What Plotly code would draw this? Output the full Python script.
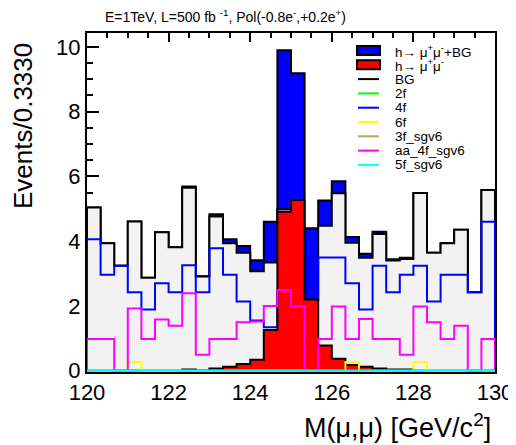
import numpy as np
import plotly.graph_objects as go

# ---- data (30 bins, 120-130 GeV, width 0.333) ----
x_min, x_max, n_bins = 120.0, 130.0, 30
signal = [0, 0, 0, 0, 0, 0, 0, 0.04, 0.01, 0.07, 0.12, 0.21, 0.34, 1.26, 4.91,
          5.27, 2.20, 0.78, 0.37, 0.18, 0.12, 0.07, 0.04, 0.04, 0, 0, 0, 0, 0, 0]
bg_2f = [0] * 30
bg_4f = [4.06, 2.96, 3.24, 2.42, 1.89, 2.70, 2.42, 3.26, 2.42, 3.78, 2.96, 2.14, 1.55, 1.34, 2.50,
         1.94, 2.20, 3.50, 3.50, 2.70, 1.89, 3.24, 2.42, 2.96, 3.24, 2.14, 2.96, 2.96, 2.42, 4.60]
bg_6f = [0, 0, 0, 0.27, 0, 0, 0, 0, 0, 0, 0, 0, 0, 0, 0,
         0, 0, 0, 0, 0.27, 0, 0, 0, 0, 0.27, 0, 0, 0, 0, 0]
bg_3f = [0] * 30
bg_aa4f = [0.98, 0.98, 0, 1.92, 0.98, 1.58, 1.39, 2.39, 0.49, 0.98, 0.98, 1.50, 1.52, 2.00, 2.49,
           1.98, 0, 0.98, 1.98, 0.98, 1.60, 0.98, 0.98, 0.49, 1.98, 1.50, 0.98, 1.39, 0, 0.98]
bg_5f = [0] * 30
x_ticks = [120, 122, 124, 126, 128, 130]
y_ticks = [0, 2, 4, 6, 8, 10]

bg = list(np.sum([bg_2f, bg_4f, bg_6f, bg_3f, bg_aa4f, bg_5f], axis=0))
total = [b + s for b, s in zip(bg, signal)]

edges = np.linspace(x_min, x_max, n_bins + 1)


def step(vals):
    xs = [edges[0]] + list(edges[:-1]) + [edges[-1], edges[-1]]
    ys = [0] + list(vals) + [vals[-1], 0]
    return xs, ys


FONT = "Liberation Sans, Arial, Helvetica, sans-serif"
fig = go.Figure()


def add_hist(vals, name, line_color, fill=None, width=2):
    xs, ys = step(vals)
    kw = dict(x=xs, y=ys, mode="lines", name=name, showlegend=False,
              line=dict(shape="hv", color=line_color, width=width), hoverinfo="skip")
    if fill:
        kw.update(fill="tozeroy", fillcolor=fill)
    fig.add_trace(go.Scatter(**kw))


add_hist(total, "h→ μ+μ-+BG", "black", fill="#0000ff")
add_hist(bg, "BG", "black", fill="#f2f2f2")
add_hist(bg_2f, "2f", "#00ff00")
add_hist(bg_4f, "4f", "#0000ff")
add_hist(signal, "h→ μ+μ-", "black", fill="#ff0000")
add_hist(bg_6f, "6f", "#ffff00")
add_hist(bg_3f, "3f_sgv6", "#c8a060")
add_hist(bg_aa4f, "aa_4f_sgv6", "#ff00ff")
add_hist(bg_5f, "5f_sgv6", "#00ffff")

# page body has an 8px margin: figure is drawn offset by (8, 8) in the window
OFF = 8
W, H = 516 - OFF, 445 - OFF
# plot frame in window pixels
L, R, T, B = 87, 495, 33, 372


def px(xp):
    return (xp - L) / (R - L)


def py(yp):
    return (B - yp) / (B - T)


annotations = [
    dict(text="E=1TeV, L=500 fb <sup>-1</sup>, Pol(-0.8e<sup>-</sup>,+0.2e<sup>+</sup>)",
         x=px(103), y=py(16), xref="paper", yref="paper", xanchor="left", yanchor="middle",
         showarrow=False, font=dict(size=14, color="black", family=FONT)),
    dict(text="Events/0.3330", textangle=-90, x=px(23), y=py(126), xref="paper", yref="paper",
         xanchor="center", yanchor="middle", showarrow=False, borderpad=0,
         font=dict(size=26, color="black", family=FONT)),
    dict(text="M(μ,μ) [GeV/c<sup>2</sup>]", x=px(493), y=py(426), xref="paper", yref="paper",
         xanchor="right", yanchor="middle", showarrow=False,
         font=dict(size=27, color="black", family=FONT)),
]

# manual legend (ROOT style, compact rows)
legend_items = [
    ("h→ μ<sup>+</sup>μ<sup>-</sup>+BG", "box", "#0000ff"),
    ("h→ μ<sup>+</sup>μ<sup>-</sup>", "box", "#ff0000"),
    ("BG", "line", "black"),
    ("2f", "line", "#00ff00"),
    ("4f", "line", "#0000ff"),
    ("6f", "line", "#ffff00"),
    ("3f_sgv6", "line", "#c8a060"),
    ("aa_4f_sgv6", "line", "#ff00ff"),
    ("5f_sgv6", "line", "#00ffff"),
]
shapes = []
for i, (txt, kind, col) in enumerate(legend_items):
    yc = 50.5 + 14.3 * i
    if kind == "box":
        shapes.append(dict(type="rect", xref="paper", yref="paper", x0=px(357), x1=px(380),
                           y0=py(yc + 4.5), y1=py(yc - 4.5), fillcolor=col,
                           line=dict(color="black", width=2)))
    else:
        shapes.append(dict(type="line", xref="paper", yref="paper", x0=px(358), x1=px(379),
                           y0=py(yc), y1=py(yc), line=dict(color=col, width=2)))
    annotations.append(dict(text=txt, x=px(394), y=py(yc), xref="paper", yref="paper",
                            xanchor="left", yanchor="middle", showarrow=False, borderpad=0,
                            font=dict(size=13.5, color="black", family=FONT)))

fig.update_layout(
    width=W, height=H,
    margin=dict(l=L - OFF, r=W - (R - OFF), t=T - OFF, b=H - (B - OFF), autoexpand=False),
    paper_bgcolor="white", plot_bgcolor="white",
    font=dict(family=FONT, color="black"),
    showlegend=False,
    annotations=annotations,
    shapes=shapes,
    xaxis=dict(range=[x_min, x_max], tickvals=x_ticks, ticks="inside", ticklen=9, tickwidth=2,
               tickcolor="black", showline=True, linewidth=2, linecolor="black", mirror="ticks",
               showgrid=False, zeroline=False, layer="below traces", automargin=False,
               tickfont=dict(size=22, color="black", family=FONT),
               minor=dict(dtick=0.5, tick0=120, ticks="inside", ticklen=5, tickwidth=2,
                          tickcolor="black", showgrid=False)),
    yaxis=dict(range=[-0.04, 10.43], tickvals=y_ticks, ticks="inside", ticklen=12, tickwidth=2,
               tickcolor="black", showline=True, linewidth=2, linecolor="black", mirror=True,
               showgrid=False, zeroline=False, layer="below traces", automargin=False,
               tickfont=dict(size=22, color="black", family=FONT),
               minor=dict(dtick=0.5, tick0=0, ticks="inside", ticklen=6, tickwidth=2,
                          tickcolor="black", showgrid=False)),
)

fig.write_html("out.html")
